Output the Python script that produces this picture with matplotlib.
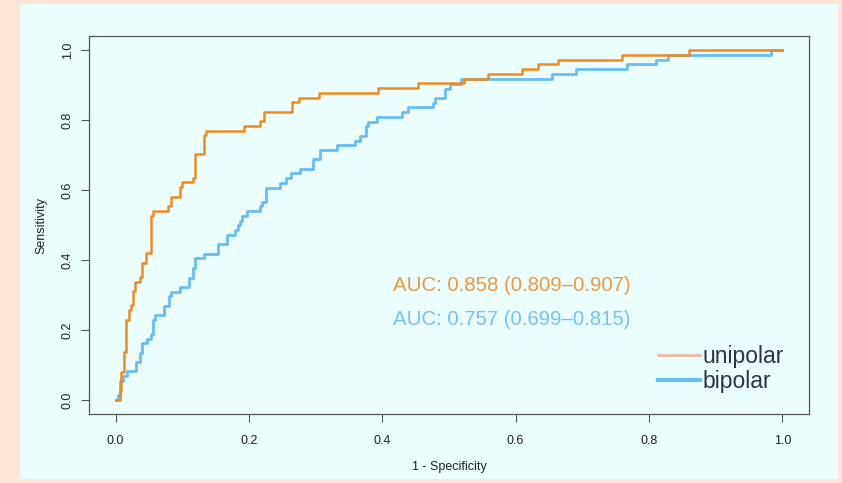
import matplotlib
matplotlib.use("Agg")
import matplotlib.pyplot as plt
from matplotlib.lines import Line2D
from matplotlib.patches import Rectangle

plt.rcParams['font.family'] = ['Liberation Sans', 'DejaVu Sans']

# ROC step corners (1 - specificity, sensitivity)
uni_fpr = [0, 0.006, 0.0085, 0.0125, 0.016, 0.0195, 0.0225, 0.026, 0.0295, 0.036, 0.039,
           0.0455, 0.0525, 0.056, 0.079, 0.0825, 0.096, 0.099, 0.116, 0.119, 0.132, 0.135,
           0.192, 0.216, 0.222, 0.265, 0.275, 0.305, 0.394, 0.454, 0.523, 0.558, 0.610,
           0.634, 0.664, 0.760, 0.860, 1.0]
uni_tpr = [0, 0.027, 0.081, 0.136, 0.230, 0.257, 0.271, 0.311, 0.338, 0.352, 0.392,
           0.419, 0.527, 0.541, 0.554, 0.581, 0.608, 0.622, 0.635, 0.703, 0.756, 0.769,
           0.783, 0.796, 0.824, 0.851, 0.864, 0.878, 0.891, 0.905, 0.918, 0.932, 0.946,
           0.959, 0.972, 0.986, 1.0, 1.0]

bi_fpr = [0, 0.0035, 0.0065, 0.011, 0.0165, 0.030, 0.0365, 0.040, 0.0465, 0.053, 0.0565,
          0.0595, 0.073, 0.0795, 0.083, 0.0965, 0.1095, 0.116, 0.1195, 0.133, 0.153, 0.1665,
          0.1795, 0.183, 0.1865, 0.1895, 0.1965, 0.216, 0.2195, 0.226, 0.246, 0.256, 0.2625,
          0.276, 0.296, 0.306, 0.3325, 0.359, 0.366, 0.376, 0.379, 0.392, 0.429, 0.439,
          0.476, 0.479, 0.494, 0.502, 0.518, 0.654, 0.691, 0.767, 0.811, 0.828, 0.983, 1.0]
bi_tpr = [0, 0.014, 0.055, 0.069, 0.082, 0.109, 0.135, 0.162, 0.175, 0.189, 0.229,
          0.243, 0.270, 0.296, 0.310, 0.324, 0.350, 0.377, 0.405, 0.418, 0.445, 0.472,
          0.486, 0.499, 0.512, 0.526, 0.539, 0.553, 0.567, 0.607, 0.621, 0.634, 0.648,
          0.661, 0.688, 0.715, 0.729, 0.741, 0.754, 0.782, 0.795, 0.809, 0.822, 0.836,
          0.849, 0.863, 0.889, 0.903, 0.917, 0.931, 0.945, 0.959, 0.972, 0.986, 1.0, 1.0]

series_names = ["unipolar", "bipolar"]
auc_labels = ["AUC: 0.858 (0.809\u20130.907)", "AUC: 0.757 (0.699\u20130.815)"]
ticks = [0.0, 0.2, 0.4, 0.6, 0.8, 1.0]
tick_labels = ["0.0", "0.2", "0.4", "0.6", "0.8", "1.0"]

ORANGE = "#EE8B22"
BLUE = "#66BEF6"
OUTER = "#FCE6D8"
INNER = "#EBFEFD"

W, H = 842, 483
fig = plt.figure(figsize=(W / 100, H / 100), dpi=100, facecolor=OUTER)
fig.patches.append(Rectangle((20 / W, 1 - 479 / H), (838 - 20) / W, (479 - 4) / H,
                             transform=fig.transFigure, facecolor=INNER,
                             edgecolor='none', zorder=-5))

ax = fig.add_axes([89 / W, 1 - 414 / H, (809 - 89) / W, (414 - 36) / H])
ax.set_zorder(2)
ax.set_facecolor(INNER)

ax.step(bi_fpr, bi_tpr, where='post', color=BLUE, lw=2.0, zorder=3)
ax.step(uni_fpr, uni_tpr, where='post', color=ORANGE, lw=1.8, zorder=4)

ax.set_xlim(-0.04, 1.04)
ax.set_ylim(-0.04, 1.04)
ax.set_xticks(ticks)
ax.set_xticklabels(tick_labels)
ax.set_yticks(ticks)
ax.set_yticklabels(tick_labels, rotation=90, va='center')
ax.tick_params(axis='both', direction='out', length=6, width=0.8, color='#555555',
               labelsize=9, labelcolor='#222222')
ax.tick_params(axis='x', pad=9)
ax.tick_params(axis='y', pad=5)
for s in ax.spines.values():
    s.set_color('#555555')
    s.set_linewidth(0.9)

ax.set_xlabel("1 - Specificity", fontsize=9, color='#222222', labelpad=10)
ax.set_ylabel("Sensitivity", fontsize=9, color='#222222', labelpad=10)

ax.text(0.416, 0.328, auc_labels[0], color="#EF9744", fontsize=14.7,
        va='center', ha='left')
ax.text(0.416, 0.231, auc_labels[1], color="#70C4F7", fontsize=14.7,
        va='center', ha='left')

handles = [Line2D([], [], color="#E8B9A2", lw=2.0),
           Line2D([], [], color=BLUE, lw=3.0)]
leg = ax.legend(handles, series_names, loc='lower left', bbox_to_anchor=(0.790, 0.055),
                frameon=False, fontsize=16.5, handlelength=1.85, handletextpad=0.12,
                labelspacing=0.1, borderpad=0, borderaxespad=0)
for t in leg.get_texts():
    t.set_color('#333344')

fig.savefig("out.png", dpi=100, facecolor=OUTER)
